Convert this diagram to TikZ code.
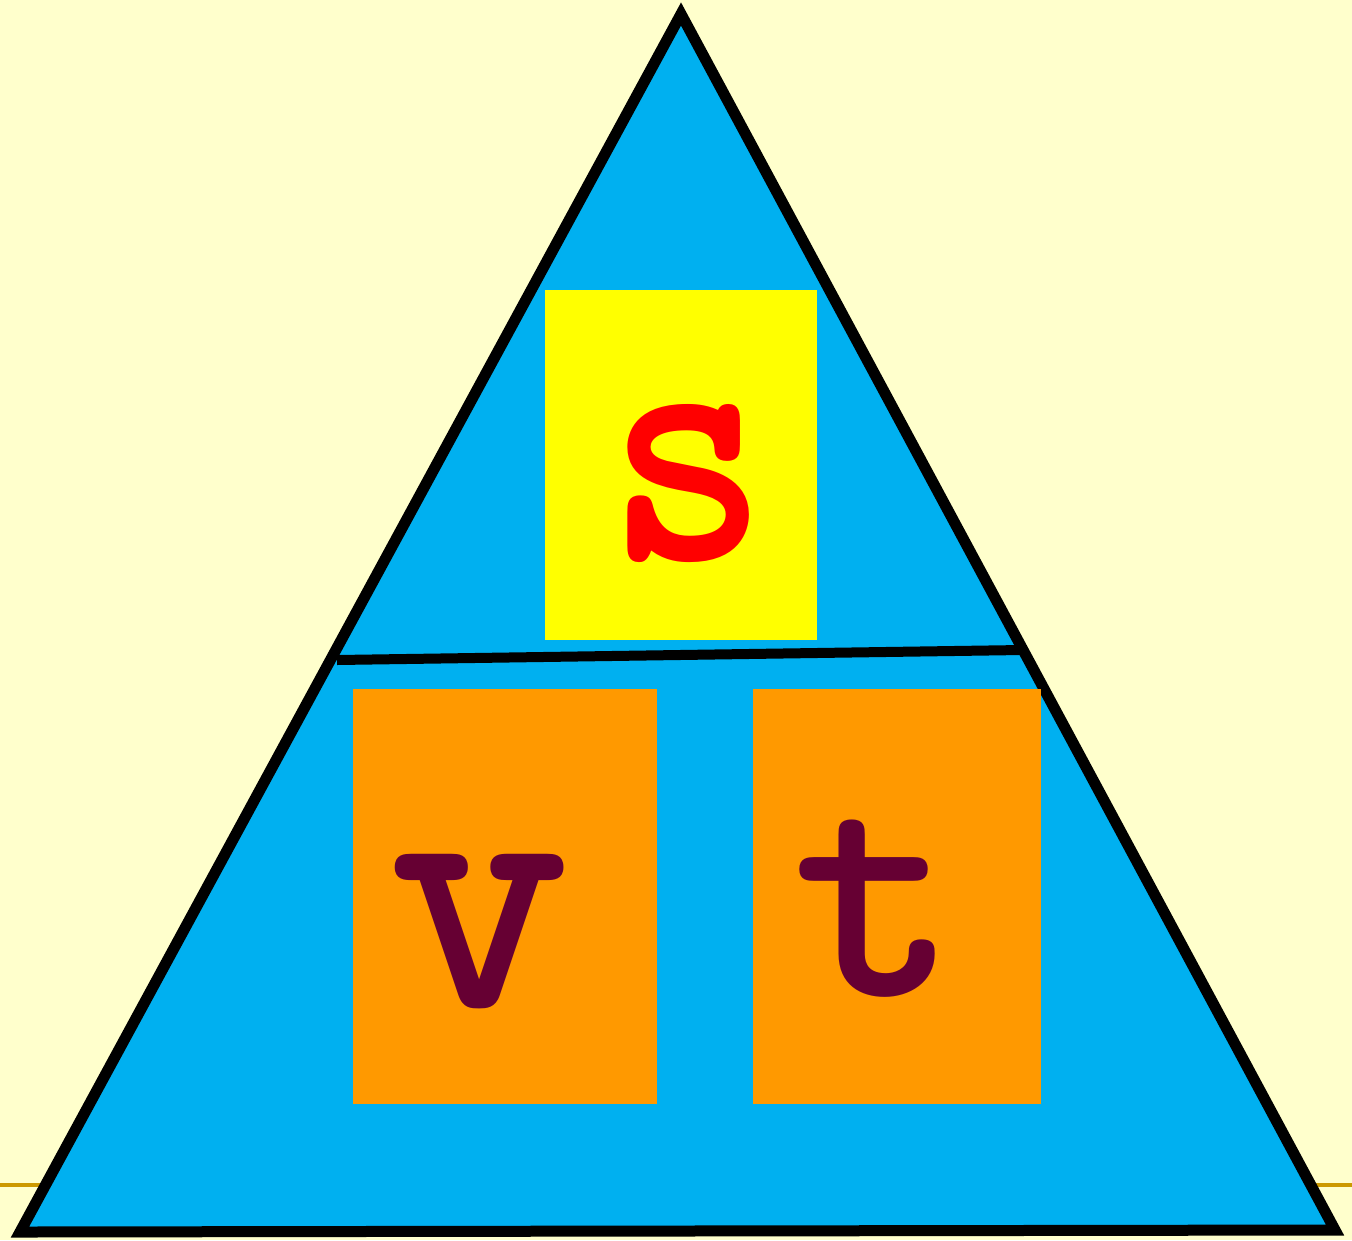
\documentclass[tikz,border=0pt]{standalone}
\usepackage{fontspec}
\definecolor{paper}{HTML}{FFFFCC}
\definecolor{skyblue}{HTML}{00B0F0}
\definecolor{boxyellow}{HTML}{FFFF00}
\definecolor{boxorange}{HTML}{FF9900}
\definecolor{plum}{HTML}{660033}
\definecolor{rulegold}{HTML}{CC9900}
\tikzset{
  box/.style={inner sep=0pt, outer sep=0pt},
  letter/.style={anchor=base, inner sep=0pt, font=\ttfamily\bfseries\fontsize{100}{100}\selectfont}
}
\begin{document}
\begin{tikzpicture}
    \fill[paper] (0,0) rectangle (13.52,12.40);
    \useasboundingbox (0,0) rectangle (13.52,12.40);

    % rule behind the triangle
    \coordinate (ruleL) at (0,0.55);
    \coordinate (ruleR) at (13.52,0.55);
    \draw[rulegold, line width=0.04cm] (ruleL) -- (ruleR);

    % triangle
    \coordinate (apex) at (6.81,12.26);
    \coordinate (left) at (0.20,0.08);
    \coordinate (right) at (13.35,0.10);
    \draw[fill=skyblue, line width=0.11cm, line join=miter] (apex) -- (left) -- (right) -- cycle;

    % boxes
    \node[box, fill=boxyellow, minimum width=2.72cm, minimum height=3.50cm] (sbox) at (6.81,7.75) {};
    \node[box, fill=boxorange, minimum width=3.04cm, minimum height=4.15cm] (vbox) at (5.05,3.44) {};
    \node[box, fill=boxorange, minimum width=2.88cm, minimum height=4.15cm] (tbox) at (8.97,3.44) {};

    % divider
    \coordinate (divL) at (3.37,5.80);
    \coordinate (divR) at (10.22,5.90);
    \draw[line width=0.10cm] (divL) -- (divR);

    % letters
    \node[letter, red, xscale=0.88] (s) at (6.88,6.80) {s};
    \node[letter, plum] (v) at (4.80,2.33) {v};
    \node[letter, plum, font=\ttfamily\bfseries\fontsize{90}{90}\selectfont] (t) at (8.76,2.45) {t};
\end{tikzpicture}
\end{document}
